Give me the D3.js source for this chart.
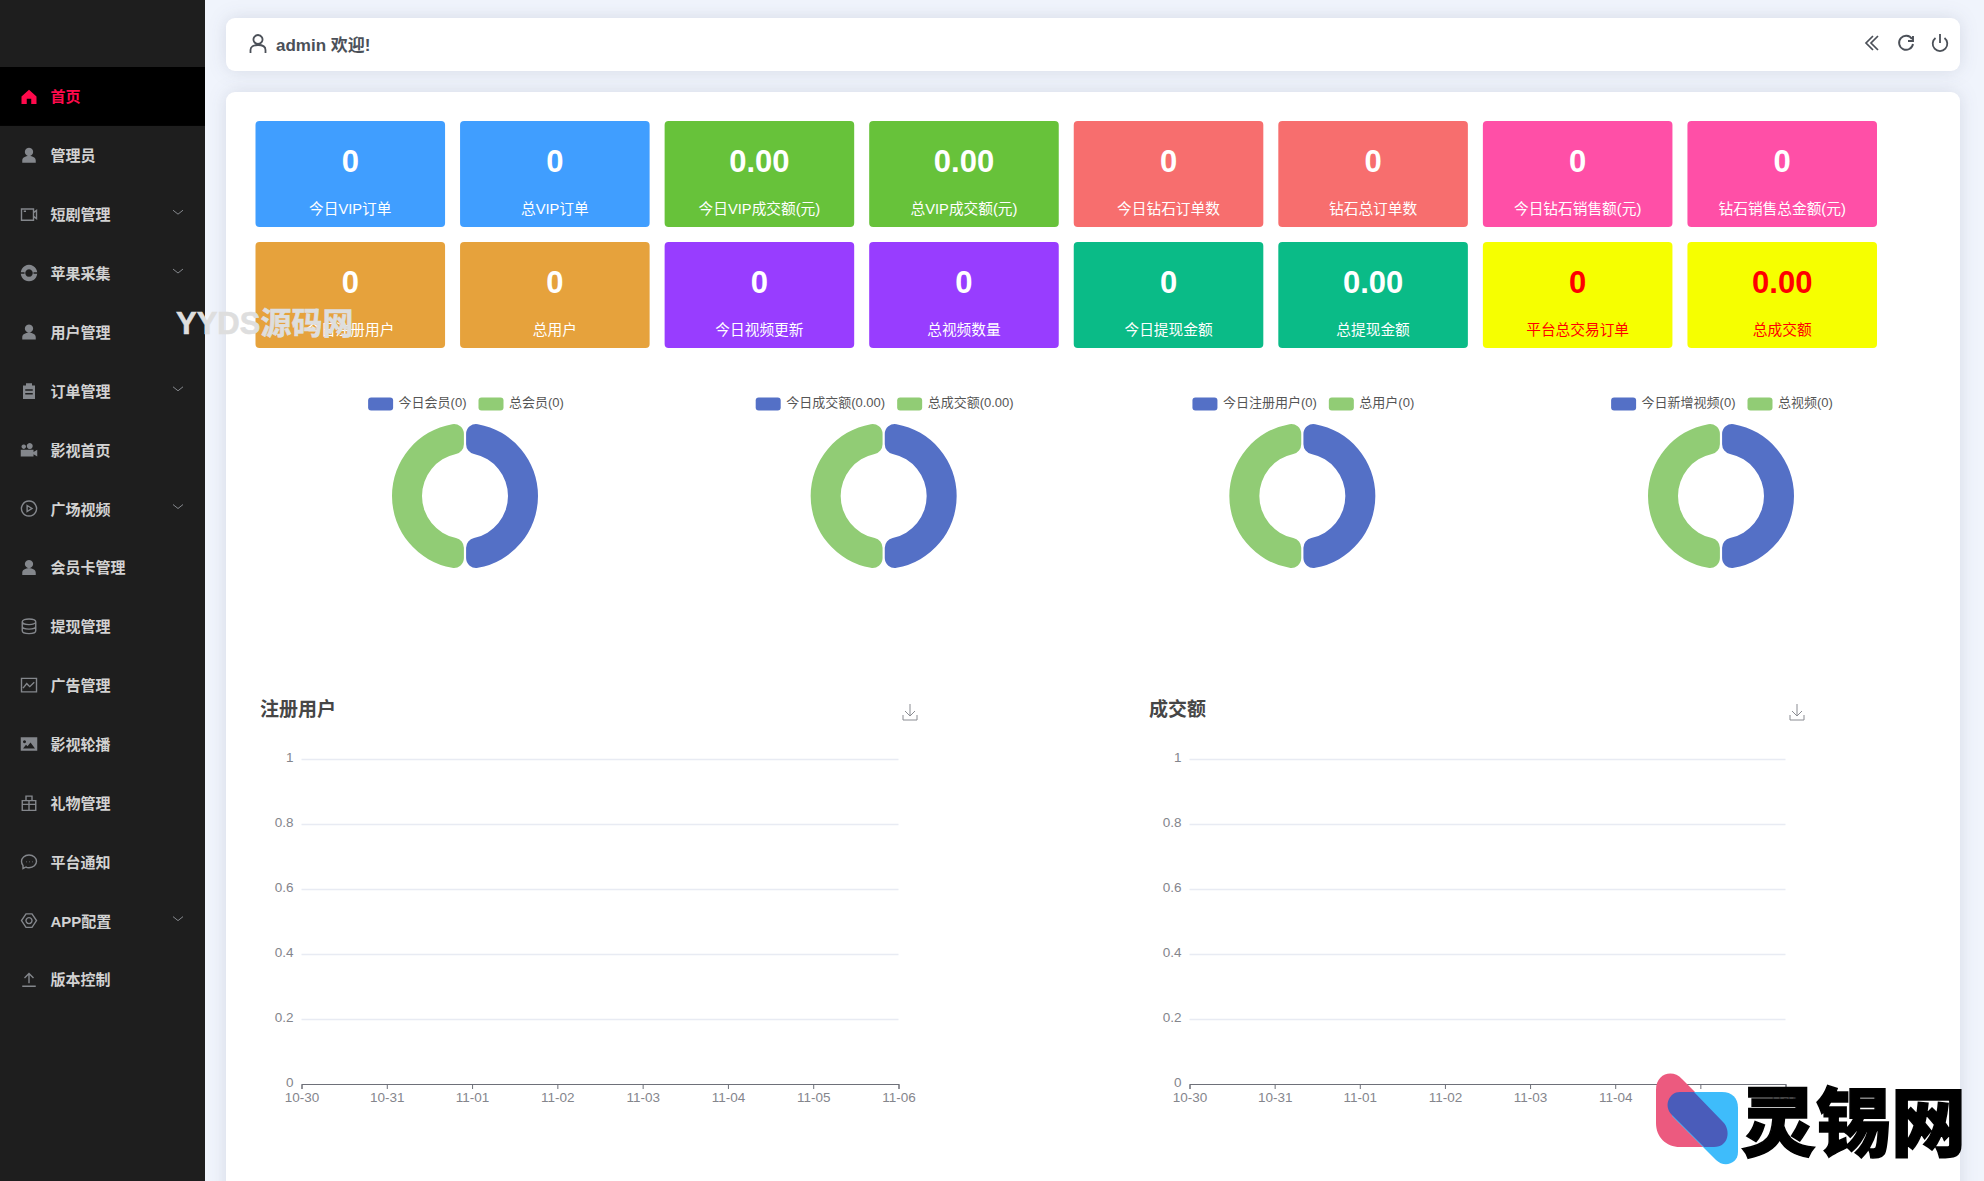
<!DOCTYPE html>
<html>
<head>
<meta charset="utf-8">
<script src="https://cdn.jsdelivr.net/npm/d3@7"></script>
<style>
html, body { margin: 0; padding: 0; background: #f0f4fc; overflow: hidden; }
svg { display: block; }
text { font-family: "Liberation Sans", "Noto Sans CJK SC", sans-serif; }
.card { filter: drop-shadow(0 0 9px rgba(40, 50, 80, 0.13)); }
.axis text { font-size: 13.5px; fill: #84858c; }
.axis path, .axis line { stroke: #6e7079; }
</style>
</head>
<body>
<svg id="page" width="1984" height="1181"></svg>
<script>
// sidebar
const menuLabels = ['首页', '管理员', '短剧管理', '苹果采集', '用户管理', '订单管理', '影视首页', '广场视频', '会员卡管理', '提现管理', '广告管理', '影视轮播', '礼物管理', '平台通知', 'APP配置', '版本控制']
const menuIcons = ['home', 'user', 'video', 'ring', 'user', 'clip', 'camera', 'play', 'user', 'db', 'pic', 'img', 'gift', 'chat', 'gear', 'upload']
const menuArrows = ['短剧管理', '苹果采集', '订单管理', '广场视频', 'APP配置']

// stat tiles
const tileLabels = ['今日VIP订单', '总VIP订单', '今日VIP成交额(元)', '总VIP成交额(元)', '今日钻石订单数', '钻石总订单数', '今日钻石销售额(元)', '钻石销售总金额(元)',
    '今日注册用户', '总用户', '今日视频更新', '总视频数量', '今日提现金额', '总提现金额', '平台总交易订单', '总成交额']
const tileValues = ['0', '0', '0.00', '0.00', '0', '0', '0', '0',
    '0', '0', '0', '0', '0', '0.00', '0', '0.00']
const tileColors = ['#409eff', '#409eff', '#67c23a', '#67c23a', '#f76e6e', '#f76e6e', '#ff4fa7', '#ff4fa7',
    '#e6a23c', '#e6a23c', '#983dff', '#983dff', '#0abb87', '#0abb87', '#f6ff00', '#f6ff00']

// donuts
const donutLegendA = ['今日会员', '今日成交额', '今日注册用户', '今日新增视频']
const donutLegendB = ['总会员', '总成交额', '总用户', '总视频']
const donutValuesA = ['0', '0.00', '0', '0']
const donutValuesB = ['0', '0.00', '0', '0']
const donutColors = ['#5470c6', '#91cc75']

// line charts
const lineTitles = ['注册用户', '成交额']
const lineDates = ['10-30', '10-31', '11-01', '11-02', '11-03', '11-04', '11-05', '11-06']
const lineTicks = [0, 0.2, 0.4, 0.6, 0.8, 1]

const svg = d3.select('#page')

// sidebar background, the cards go on top of the page colour
svg.append('rect').attr('class', 'card').attr('x', 226).attr('y', 18).attr('width', 1734).attr('height', 53).attr('rx', 9).attr('fill', '#fff')
svg.append('rect').attr('class', 'card').attr('x', 226).attr('y', 92).attr('width', 1734).attr('height', 1200).attr('rx', 9).attr('fill', '#fff')
svg.append('rect').attr('width', 205).attr('height', 1181).attr('fill', '#1e1e1e')

const iconPaths = {
    home: { fill: 'M12 3 L22 12 V22 H15 V15 H9 V22 H2 V12 Z' },
    user: { fill: 'M12 2 a5.5 5.5 0 1 1 -0.01 0 Z M3 22 v-3 c0-4 4-6 9-6 s9 2 9 6 v3 Z' },
    video: { stroke: 'M2 5 H18 V20 H2 Z M18 10 L22 7 V18 L18 15 M5 8 H8' },
    ring: { fill: 'M12 1 a11 11 0 1 1 -0.01 0 Z M12 7 a5 5 0 1 0 0.01 0 Z M1 11 H6 V13 H1 Z M18 11 H23 V13 H18 Z' },
    clip: { fill: 'M8 2 H16 V5 H20 V23 H4 V5 H8 Z M7 10 V12 H17 V10 Z M7 15 V17 H17 V15 Z' },
    camera: { fill: 'M1 12 H18 V21 H1 Z M18 15 L23 12 V21 L18 18 Z M5 5 a3 3 0 1 1 -0.01 0 Z M13 3 a4 4 0 1 1 -0.01 0 Z' },
    play: { stroke: 'M12 2 a10 10 0 1 1 -0.01 0 Z M9.5 8 L16 12 L9.5 16 Z' },
    db: { stroke: 'M3 6 c0-5 18-5 18 0 s-18 5-18 0 V18 c0 5 18 5 18 0 V6 M3 12 c0 5 18 5 18 0' },
    pic: { stroke: 'M2 3 H22 V21 H2 Z M4 16 L9 10 L13 14 L19 8' },
    img: { fill: 'M1 3 H23 V21 H1 Z M6 7 a2 2 0 1 0 0.01 0 Z M4 18 H20 L14 10 L10 15 L8 13 Z' },
    gift: { stroke: 'M3 9 H21 V22 H3 Z M3 14 H21 M12 9 V22 M8 3 H16 V9 H8 Z' },
    chat: { stroke: 'M12 3 c6 0 10 4 10 8.5 s-4 8.5-10 8.5 c-2 0-3 0-4-1 l-4 2 v-4 c-1.500-1.500-2-3.500-2-5.500 C2 7 6 3 12 3 Z M8 12 h.6 M12 12 h.6 M16 12 h.6' },
    gear: { stroke: 'M8 3 H16 L22 12 L16 21 H8 L2 12 Z M12 8 a4 4 0 1 1 -0.01 0 Z' },
    upload: { stroke: 'M3 21 H21 M12 17 V4 M6 10 L12 4 L18 10' }
}

function drawIcon (g, name, color, size) {
    const icon = iconPaths[name]
    const scale = size / 24
    const node = g.append('g').attr('transform', `scale(${scale}) translate(-12, -12)`)
    if (icon.fill) {
        node.append('path').attr('d', icon.fill).attr('fill', color).attr('fill-rule', 'evenodd')
    } else {
        node.append('path').attr('d', icon.stroke).attr('fill', 'none').attr('stroke', color).attr('stroke-width', 1.4 / scale)
    }
}

let menuY = d3.scaleBand().domain(menuLabels).range([67, 67 + 58.87 * menuLabels.length])
let menuItems = svg.selectAll('.menu')
    .data(menuLabels)
    .enter()
    .append('g')
    .attr('transform', d => `translate(0, ${menuY(d)})`)
menuItems.filter((d, i) => i === 0).append('rect').attr('width', 205).attr('height', menuY.bandwidth()).attr('fill', '#000')
menuItems.append('text')
    .attr('x', 50.5)
    .attr('y', menuY.bandwidth() / 2 + 0.6)
    .attr('dy', '0.36em')
    .style('font-size', '15px')
    .style('font-weight', 700)
    .attr('fill', (d, i) => i === 0 ? '#ff0a4c' : '#d2d2d2')
    .text(d => d)
menuItems.append('g')
    .attr('transform', `translate(29, ${menuY.bandwidth() / 2})`)
    .each(function (d, i) {
        drawIcon(d3.select(this), menuIcons[i], i === 0 ? '#ff0a4c' : '#84878c', 18)
    })
menuItems.filter(d => menuArrows.includes(d))
    .append('path')
    .attr('d', `M173 ${menuY.bandwidth() / 2 - 4} l5 4 l5 -4`)
    .attr('fill', 'none')
    .attr('stroke', '#85888d')

// header
const header = svg.append('g')
header.append('g').attr('transform', 'translate(258, 44)').each(function () {
    d3.select(this).append('path')
        .attr('d', 'M0 -9 a4.500 4.500 0 1 1 -0.01 0 Z M-7.500 9 v-3 c0-3.500 3-5 7.500-5 s7.500 1.500 7.500 5 v3')
        .attr('fill', 'none').attr('stroke', '#4b5058').attr('stroke-width', 1.8)
})
header.append('text').attr('x', 276).attr('y', 45).attr('dy', '0.36em')
    .style('font-size', '17px').style('font-weight', 700).attr('fill', '#4b5058').text('admin 欢迎!')
header.append('path').attr('d', 'M1878 36 l-7 7 l7 7 M1873 36 l-7 7 l7 7').attr('fill', 'none').attr('stroke', '#4b5058').attr('stroke-width', 1.7)
header.append('path').attr('d', 'M1912 39 a7 7 0 1 0 1 5 M1913 36 v5 h-5').attr('fill', 'none').attr('stroke', '#4b5058').attr('stroke-width', 1.9)
header.append('path').attr('d', 'M1935.500 38 a7.300 7.300 0 1 0 9 0 M1940 34 v9').attr('fill', 'none').attr('stroke', '#4b5058').attr('stroke-width', 1.8)

// tiles
let tileX = d3.scaleBand().domain(d3.range(8)).range([255.5, 1877]).paddingInner(15 / 204.6)
let tileY = d3.scaleBand().domain(d3.range(2)).range([121, 348]).paddingInner(15 / 121)
let tiles = svg.selectAll('.tile')
    .data(tileLabels)
    .enter()
    .append('g')
    .attr('transform', (d, i) => `translate(${tileX(i % 8)}, ${tileY(Math.floor(i / 8))})`)
tiles.append('rect')
    .attr('width', tileX.bandwidth())
    .attr('height', tileY.bandwidth())
    .attr('rx', 4)
    .attr('fill', (d, i) => tileColors[i])
tiles.append('text')
    .attr('x', tileX.bandwidth() / 2)
    .attr('y', 40)
    .attr('dy', '0.36em')
    .attr('text-anchor', 'middle')
    .style('font-size', '31px')
    .style('font-weight', 700)
    .attr('fill', (d, i) => tileColors[i] === '#f6ff00' ? '#f00' : '#fff')
    .text((d, i) => tileValues[i])
tiles.append('text')
    .attr('x', tileX.bandwidth() / 2)
    .attr('y', 88)
    .attr('dy', '0.36em')
    .attr('text-anchor', 'middle')
    .style('font-size', '14.7px')
    .attr('fill', (d, i) => tileColors[i] === '#f6ff00' ? '#f00' : '#fff')
    .text(d => d)

// donuts
let donutX = d3.scalePoint().domain(d3.range(4)).range([465, 1721])
let arc = d3.arc().innerRadius(43).outerRadius(73).cornerRadius(10).padAngle(0.03).padRadius(73)
donutLegendA.forEach(function (name, i) {
    let g = svg.append('g').attr('transform', `translate(${donutX(i)}, 0)`)
    let values = [+donutValuesA[i], +donutValuesB[i]]
    // all zero: echarts splits the ring evenly
    let shares = d3.sum(values) === 0 ? values.map(() => 1) : values
    g.selectAll('.slice')
        .data(d3.pie().sort(null)(shares))
        .enter()
        .append('path')
        .attr('transform', 'translate(0, 496)')
        .attr('d', arc)
        .attr('fill', (d, j) => donutColors[j])

    let legend = g.append('g')
    let names = [`${name}(${donutValuesA[i]})`, `${donutLegendB[i]}(${donutValuesB[i]})`]
    let cursor = 0
    names.forEach(function (label, j) {
        legend.append('rect')
            .attr('x', cursor).attr('y', -6.5).attr('width', 25).attr('height', 13).attr('rx', 3)
            .attr('fill', donutColors[j])
        let t = legend.append('text')
            .attr('x', cursor + 30.5).attr('y', -1.5).attr('dy', '0.36em')
            .style('font-size', '13px').attr('fill', '#555')
            .text(label)
        cursor += 30.5 + t.node().getComputedTextLength() + (j === 0 ? 12 : 0)
    })
    legend.attr('transform', `translate(${1 - cursor / 2}, 404)`)
})

// line charts, both empty in the picture
function line_chart (left, right, titleX, iconX, title) {
    let g = svg.append('g')
    let xScale = d3.scalePoint().domain(lineDates).range([left, right])
    let yScale = d3.scaleLinear().domain([0, 1]).range([1084, 759])

    g.append('text').attr('x', titleX).attr('y', 709).attr('dy', '0.36em')
        .style('font-size', '19px').style('font-weight', 700).attr('fill', '#464646').text(title)
    g.append('path')
        .attr('d', `M${iconX} 704 v12 M${iconX - 5} 711 l5 5 l5 -5 M${iconX - 7} 715 v5 h14 v-5`)
        .attr('fill', 'none').attr('stroke', '#8a8c92')

    let yAxis = g.append('g')
        .attr('class', 'axis')
        .attr('transform', `translate(${left}, 0)`)
        .call(d3.axisLeft(yScale).tickValues(lineTicks).tickFormat(d3.format('~g')).tickSize(-(right - left)).tickPadding(8))
    yAxis.select('.domain').remove()
    yAxis.selectAll('line').style('stroke', '#e8ebf3').style('stroke-width', 1.6)
    yAxis.selectAll('text').attr('dy', '0.16em')
    yAxis.selectAll('.tick').filter(d => d === 0).select('line').remove()

    g.append('g')
        .attr('class', 'axis')
        .attr('transform', 'translate(0, 1084)')
        .call(d3.axisBottom(xScale).tickSizeOuter(5).tickSize(5).tickPadding(3))
}
line_chart(301.5, 898.5, 260, 910, lineTitles[0])
line_chart(1189.5, 1785.5, 1149, 1797, lineTitles[1])

// watermarks
svg.append('text').attr('x', 176).attr('y', 323).attr('dy', '0.36em')
    .style('font-size', '31px').style('font-weight', 700).attr('fill', '#dedede').attr('stroke', '#dedede').attr('stroke-width', 0.6).text('YYDS源码网')

let logo = svg.append('g')
logo.append('path').attr('d', 'M1656 1090 c0 -17 17 -21 26 -11 L1727 1124 L1727 1147 L1680 1147 c-14 0 -24 -10 -24 -24 Z').attr('fill', '#ec5a7f')
logo.append('path').attr('d', 'M1680 1092 L1722 1092 c10 0 16 6 16 16 L1738 1152 c0 12 -14 16 -22 8 L1672 1116 Z').attr('fill', '#3ebcfb')
logo.append('path').attr('d', 'M1680 1092 L1694 1092 L1723 1122 c8 8 6 25 -9 25 L1704 1147 L1672 1115 c-9 -9 -3 -23 8 -23 Z').attr('fill', '#4a5cba')
logo.append('text').attr('x', 1741).attr('y', 1120).attr('dy', '0.4em')
    .style('font-family', '"Noto Sans CJK SC"').style('font-size', '75px').style('font-weight', 900)
    .attr('fill', '#000').attr('stroke', '#000').attr('stroke-width', 1.5).text('灵锡网')
</script>
</body>
</html>
